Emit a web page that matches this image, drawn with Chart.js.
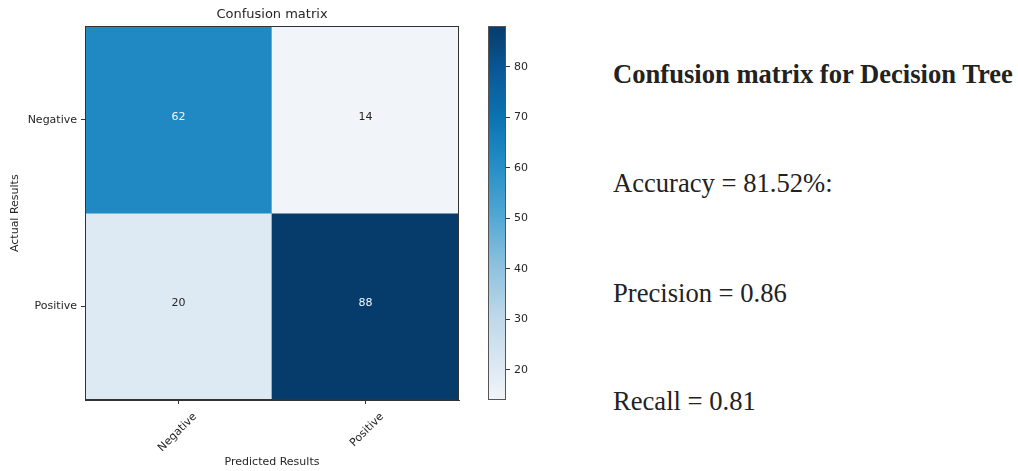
<!DOCTYPE html>
<html>
<head>
<meta charset="utf-8">
<script src="https://cdn.jsdelivr.net/npm/chart.js@4.4.1/dist/chart.umd.min.js"></script>
<style>
  html, body { margin: 0; padding: 0; background: #fff; }
  body { position: relative; width: 1018px; height: 471px; overflow: hidden; }
  #cm { position: absolute; left: 0; top: 0; width: 470px; height: 471px; }
  #cb { position: absolute; left: 470px; top: 0; width: 60px; height: 471px; }
  .note { position: absolute; left: 613px; font-family: 'Liberation Serif', 'Times New Roman', serif;
          font-size: 26.6px; line-height: 26px; color: #222; white-space: nowrap; }
  .note.head { font-weight: bold; }
</style>
</head>
<body>
<div id="cm"><canvas id="cmCanvas"></canvas></div>
<div id="cb"><canvas id="cbCanvas"></canvas></div>
<div id="summary"></div>
<script>
// ---- data ----
const rowLabels = ['Negative', 'Positive'];      // actual classes (rows)
const colLabels = ['Negative', 'Positive'];      // predicted classes (columns)
const negativeRow = [62, 14];
const positiveRow = [20, 88];
const colorbarTicks = [20, 30, 40, 50, 60, 70, 80];

const summaryTitle = 'Confusion matrix for Decision Tree';
const summaryLines = ['Accuracy = 81.52%:', 'Precision = 0.86', 'Recall = 0.81'];

// ---- colour map (sequential blues) ----
const CMAP = [
  [0.00, '#f1f5f9'],
  [0.08, '#deeaf3'],
  [0.22, '#bfd8ea'],
  [0.36, '#8cc1de'],
  [0.50, '#4ea6d3'],
  [0.649, '#2089c4'],
  [0.76, '#0b72b0'],
  [0.88, '#0a5898'],
  [1.00, '#063c6c']
];
function hexToRgb(h) {
  const n = parseInt(h.slice(1), 16);
  return [(n >> 16) & 255, (n >> 8) & 255, n & 255];
}
function cmap(t) {
  t = Math.max(0, Math.min(1, t));
  for (let i = 1; i < CMAP.length; i++) {
    const [t1, c1] = CMAP[i];
    if (t <= t1) {
      const [t0, c0] = CMAP[i - 1];
      const f = (t - t0) / (t1 - t0);
      const a = hexToRgb(c0), b = hexToRgb(c1);
      const c = a.map((v, k) => Math.round(v + (b[k] - v) * f));
      return `rgb(${c[0]},${c[1]},${c[2]})`;
    }
  }
  return CMAP[CMAP.length - 1][1];
}

const matrix = [negativeRow, positiveRow];
const flat = matrix.flat();
const vmin = Math.min(...flat);
const vmax = Math.max(...flat);
const norm = v => (v - vmin) / (vmax - vmin);

const TEXT = '#262626';
const sans = size => ({ family: "'DejaVu Sans', sans-serif", size, weight: 'normal' });

// Outline around the plotting area
const frame = {
  id: 'frame',
  afterDatasetsDraw(chart, args, opts) {
    const { ctx, chartArea: a } = chart;
    ctx.save();
    ctx.strokeStyle = opts.color || '#333';
    ctx.lineWidth = 1;
    const l = Math.round(a.left) + 0.5, t = Math.round(a.top) + 0.5;
    const r = Math.round(a.right) - 0.5, b = Math.round(a.bottom) - 0.5;
    ctx.strokeRect(l, t, r - l, b - t);
    ctx.restore();
  }
};

// Count written in the middle of each cell
const cellLabels = {
  id: 'cellLabels',
  afterDatasetsDraw(chart) {
    const { ctx } = chart;
    const thresh = vmax / 2;
    ctx.save();
    ctx.font = "11px 'DejaVu Sans', sans-serif";
    ctx.textAlign = 'center';
    ctx.textBaseline = 'middle';
    chart.data.datasets.forEach((ds, r) => {
      const meta = chart.getDatasetMeta(r);
      meta.data.forEach((el, c) => {
        const v = ds.values[c];
        ctx.fillStyle = v > thresh ? '#f4f8fc' : TEXT;
        ctx.fillText(String(v), el.x, (el.y + el.base) / 2 - 3);
      });
    });
    ctx.restore();
  }
};

// ---- confusion matrix ----
new Chart(document.getElementById('cmCanvas'), {
  type: 'bar',
  data: {
    labels: colLabels,
    datasets: matrix.map((row, r) => ({
      label: rowLabels[r],
      data: row.map(() => [r - 0.5, r + 0.5]),
      values: row,
      backgroundColor: row.map(v => cmap(norm(v))),
      borderWidth: 0,
      grouped: false,
      barPercentage: 1,
      categoryPercentage: 1
    }))
  },
  options: {
    responsive: true,
    maintainAspectRatio: false,
    animation: false,
    layout: { padding: { left: 0, right: 11, top: 0, bottom: 0 } },
    plugins: {
      legend: { display: false },
      tooltip: { enabled: false },
      title: {
        display: true, text: 'Confusion matrix', color: TEXT, fullSize: false,
        font: sans(13), padding: { top: 7, bottom: 3.8 }
      },
      frame: { color: '#333' }
    },
    scales: {
      x: {
        type: 'category',
        offset: true,
        grid: { display: true, offset: false, drawOnChartArea: false, drawTicks: true, tickLength: 4, tickColor: '#333' },
        border: { display: true, color: '#333', width: 1 },
        ticks: { minRotation: 45, maxRotation: 45, autoSkip: false, labelOffset: 16.5, padding: 6.3, color: TEXT, font: sans(11) },
        title: { display: true, text: 'Predicted Results', color: TEXT, font: sans(11), padding: { top: 0, bottom: 2.4 } },
        afterFit: s => { s.height = 71; }
      },
      y: {
        type: 'linear',
        reverse: true,
        min: -0.5,
        max: 1.5,
        afterBuildTicks: s => { s.ticks = rowLabels.map((_, i) => ({ value: i })); },
        grid: { display: true, drawOnChartArea: false, drawTicks: true, tickLength: 4, tickColor: '#333' },
        border: { display: true, color: '#333', width: 1 },
        ticks: { callback: v => rowLabels[v], padding: 4, color: TEXT, font: sans(11) },
        title: { display: true, text: 'Actual Results', color: TEXT, font: sans(11), padding: { top: 8.4, bottom: 0 } },
        afterFit: s => { s.width = 85; }
      }
    }
  },
  plugins: [frame, cellLabels]
});

// ---- colour bar ----
function barGradient(chart) {
  const a = chart.chartArea;
  if (!a) return cmap(0.5);
  const y = chart.scales.y;
  const g = chart.ctx.createLinearGradient(0, y.getPixelForValue(vmin), 0, y.getPixelForValue(vmax));
  CMAP.forEach(([t, c]) => g.addColorStop(t, c));
  return g;
}

new Chart(document.getElementById('cbCanvas'), {
  type: 'bar',
  data: {
    labels: [''],
    datasets: [{
      data: [[vmin, vmax]],
      backgroundColor: ctx => barGradient(ctx.chart),
      borderWidth: 0,
      barPercentage: 1,
      categoryPercentage: 1
    }]
  },
  options: {
    responsive: true,
    maintainAspectRatio: false,
    animation: false,
    layout: { padding: { left: 18, right: 0, top: 26.4, bottom: 71 } },
    plugins: {
      legend: { display: false },
      tooltip: { enabled: false },
      frame: { color: '#555' }
    },
    scales: {
      x: { display: false, offset: true },
      y: {
        position: 'right',
        min: vmin,
        max: vmax,
        afterBuildTicks: s => { s.ticks = colorbarTicks.map(v => ({ value: v })); },
        grid: { display: true, drawOnChartArea: false, drawTicks: true, tickLength: 4, tickColor: '#333' },
        border: { display: false },
        ticks: { padding: 4, color: TEXT, font: sans(11) },
        afterFit: s => { s.width = 24; }
      }
    }
  },
  plugins: [frame]
});

// ---- summary text ----
const summary = document.getElementById('summary');
const lineTops = [61, 170, 280, 388];
[summaryTitle, ...summaryLines].forEach((txt, i) => {
  const d = document.createElement('div');
  d.className = 'note' + (i === 0 ? ' head' : '');
  d.style.top = lineTops[i] + 'px';
  d.textContent = txt;
  summary.appendChild(d);
});
</script>
</body>
</html>
